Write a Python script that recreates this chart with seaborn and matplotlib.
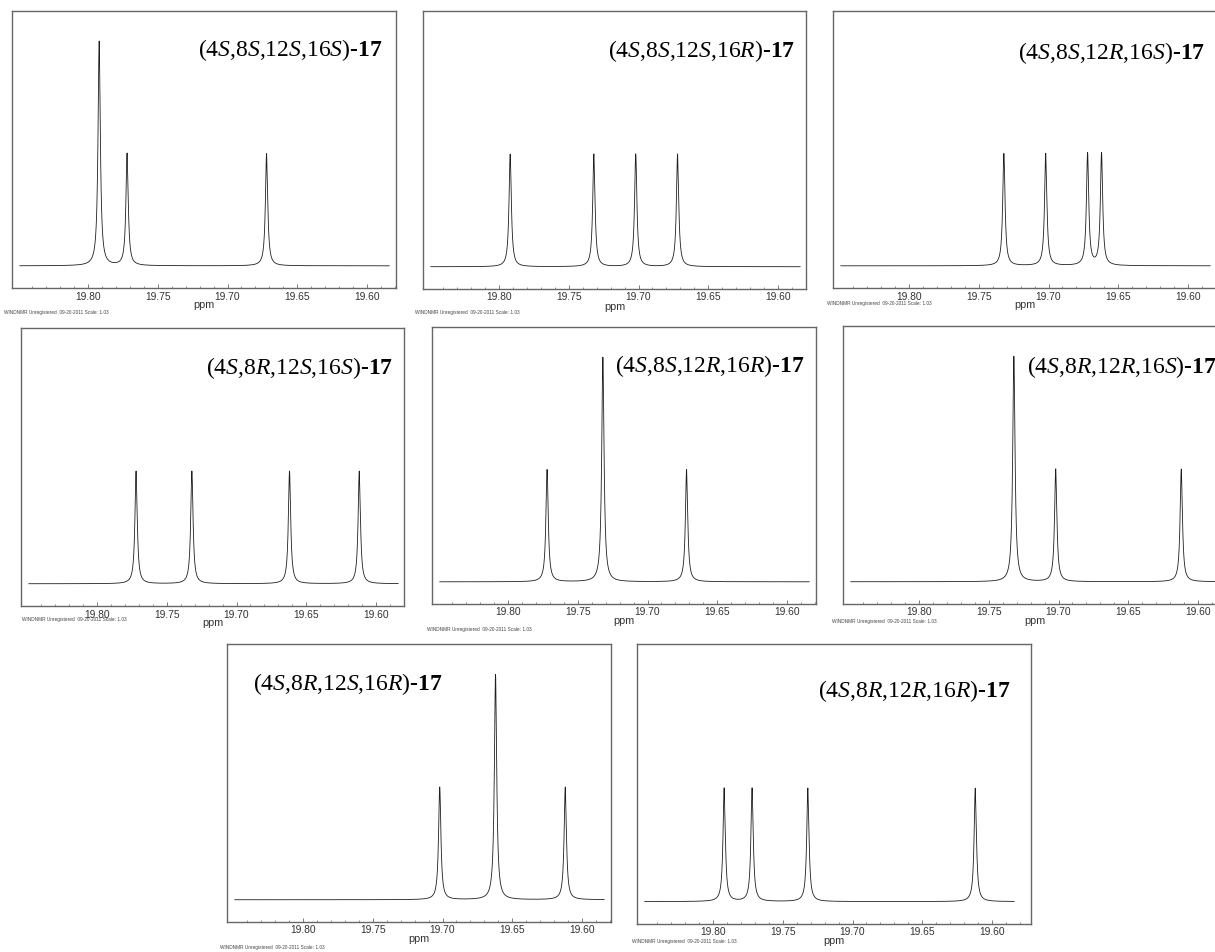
import numpy as np
import pandas as pd
import matplotlib
matplotlib.use("Agg")
import matplotlib.pyplot as plt
import seaborn as sns
from matplotlib.ticker import FixedLocator, FormatStrFormatter

# ---------------- data ----------------
names = [
    "(4S,8S,12S,16S)-17",
    "(4S,8S,12S,16R)-17",
    "(4S,8S,12R,16S)-17",
    "(4S,8R,12S,16S)-17",
    "(4S,8S,12R,16R)-17",
    "(4S,8R,12R,16S)-17",
    "(4S,8R,12S,16R)-17",
    "(4S,8R,12R,16R)-17",
]
peak_ppm = [
    [19.792, 19.772, 19.672],
    [19.792, 19.732, 19.702, 19.672],
    [19.732, 19.702, 19.672, 19.662],
    [19.772, 19.732, 19.662, 19.612],
    [19.772, 19.732, 19.672],
    [19.732, 19.702, 19.612],
    [19.702, 19.662, 19.612],
    [19.792, 19.772, 19.732, 19.612],
]
peak_int = [
    [2, 1, 1],
    [1, 1, 1, 1],
    [1, 1, 1, 1],
    [1, 1, 1, 1],
    [1, 2, 1],
    [2, 1, 1],
    [1, 2, 1],
    [1, 1, 1, 1],
]
major_ticks = [19.80, 19.75, 19.70, 19.65, 19.60]
minor_ticks = [19.84, 19.83, 19.82, 19.81, 19.79, 19.78, 19.77, 19.76,
               19.74, 19.73, 19.72, 19.71, 19.69, 19.68, 19.67, 19.66,
               19.64, 19.63, 19.62, 19.61, 19.59, 19.58]
half_width = 0.001          # Lorentzian HWHM, ppm
spec_start, spec_end = 19.849, 19.584
watermark = "WINDNMR Unregistered  09-20-2011 Scale: 1.03"

# ---------------- style ----------------
sns.set_style("white")
plt.rcParams["font.family"] = ["Liberation Sans", "DejaVu Sans"]
plt.rcParams["mathtext.fontset"] = "custom"
plt.rcParams["mathtext.rm"] = "Liberation Serif"
plt.rcParams["mathtext.it"] = "Liberation Serif:italic"
plt.rcParams["mathtext.bf"] = "Liberation Serif:bold"

W, H = 1215, 953
fig = plt.figure(figsize=(W / 100, H / 100), dpi=100)
fig.patch.set_facecolor("white")

# layout in pixels: left, top, width, height
layout = [
    (12, 12, 384, 277),
    (423, 12, 383, 278),
    (833, 12, 384, 277),
    (21, 329, 383, 278),
    (432, 328, 384, 277),
    (843, 327, 384, 278),
    (227, 645, 384, 278),
    (637, 645, 394, 280),
]
# title: (ha, inset px from side, baseline px below top)
title_pos = [
    ("right", 13, 44), ("right", 11, 45), ("right", 12, 47), ("right", 11, 45),
    ("right", 11, 44), ("right", 10, 46), ("left", 26, 45), ("right", 21, 52),
]
# watermark: (x px, y px center)
wm_pos = [(4, 313), (415, 313), (827, 303), (22, 620),
          (427, 629), (832, 622), (220, 948), (632, 942)]

PPM_PER_PX = 0.2 / 279.0
XLEFT = 19.8545


def to_math(name):
    core, suffix = name.rsplit("-", 1)
    parts = []
    for ch in core:
        if ch in "SR":
            parts.append(r"\mathit{%s}" % ch)
        elif ch == ",":
            parts.append("{,}")
        else:
            parts.append(r"\mathrm{%s}" % ch)
    return "$" + "".join(parts) + "$-$\\mathbf{" + suffix + "}$"


for i, (l, t, w, h) in enumerate(layout):
    ax = fig.add_axes([l / W, 1 - (t + h) / H, w / W, h / H])
    centers = np.array(peak_ppm[i])
    amps = np.array(peak_int[i], dtype=float)
    x = np.union1d(np.arange(spec_end, spec_start, 0.00002), centers)
    y = np.zeros_like(x)
    for c, a in zip(centers, amps):
        y += a * half_width ** 2 / ((x - c) ** 2 + half_width ** 2)
    df = pd.DataFrame({"ppm": x, "intensity": y})
    sns.lineplot(data=df, x="ppm", y="intensity", ax=ax, color="#1f1f1f",
                 linewidth=0.6, estimator=None, sort=True)

    ax.set_xlim(XLEFT, XLEFT - w * PPM_PER_PX)
    ax.set_ylim(-0.1975, 2.27)
    ax.set_yticks([])
    ax.set_ylabel("")
    ax.xaxis.set_major_locator(FixedLocator(major_ticks))
    ax.xaxis.set_minor_locator(FixedLocator(minor_ticks))
    ax.xaxis.set_major_formatter(FormatStrFormatter("%.2f"))
    ax.tick_params(axis="x", which="major", direction="in", length=3.2,
                   width=0.6, color="#666666", labelsize=7.4,
                   labelcolor="#333333", pad=1.8, bottom=True)
    ax.tick_params(axis="x", which="minor", direction="in", length=1.8,
                   width=0.5, color="#666666", bottom=True)
    for sp in ax.spines.values():
        sp.set_color("#666666")
        sp.set_linewidth(1.0)
        sp.set_visible(True)

    ax.set_xlabel("ppm", fontsize=7.8, color="#333333")
    ax.xaxis.set_label_coords(0.5, -11.5 / h)

    ha, inset, base = title_pos[i]
    tx = (w - inset) / w if ha == "right" else inset / w
    ty = (h - base) / h
    ax.text(tx, ty, to_math(names[i]), transform=ax.transAxes, ha=ha,
            va="baseline", fontsize=17, fontfamily="Liberation Serif",
            fontweight="bold", color="black")

    wx, wy = wm_pos[i]
    fig.text(wx / W, 1 - wy / H, watermark, fontsize=3.4, color="#444444",
             ha="left", va="center")

fig.savefig("out.png", dpi=100, facecolor="white")
